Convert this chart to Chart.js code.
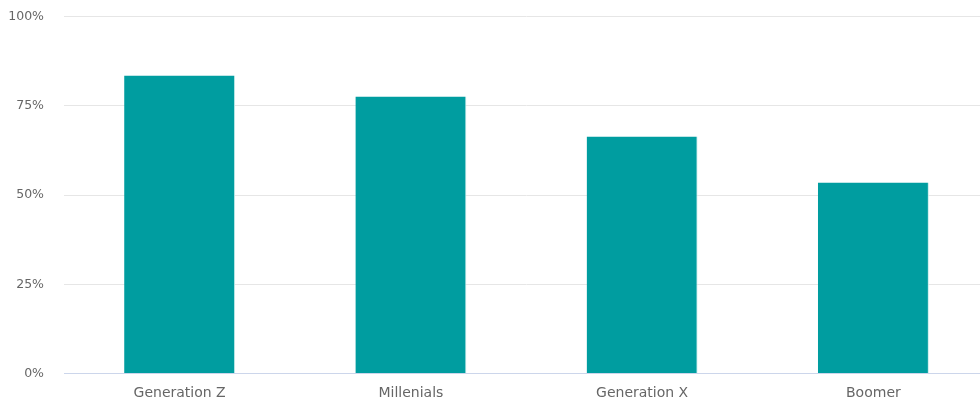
<!DOCTYPE html>
<html>
<head>
<meta charset="utf-8">
<script src="https://cdn.jsdelivr.net/npm/chart.js@4"></script>
<style>
  html, body { margin: 0; padding: 0; background: #fff; overflow: hidden; }
  #clip { width: 980px; height: 399px; overflow: hidden; }
  #wrap { width: 989px; height: 412px; margin-top: -11px; position: relative; }
</style>
</head>
<body>
<div id="clip"><div id="wrap"><canvas id="chart"></canvas></div></div>
<script>
var categories = ["Generation Z", "Millenials", "Generation X", "Boomer"];
var shareValues = [83.5, 77.6, 66.4, 53.5];
var yTicks = [0, 25, 50, 75, 100];

var ctx = document.getElementById("chart");
new Chart(ctx, {
    type: "bar",
    data: {
        labels: categories,
        datasets: [{
            data: shareValues,
            backgroundColor: "#009da0",
            borderColor: "#c8ecec",
            borderWidth: { right: 1, left: 0, top: 0, bottom: 0 },
            borderSkipped: false,
            barPercentage: 0.48,
            categoryPercentage: 1
        }]
    },
    options: {
        responsive: true,
        maintainAspectRatio: false,
        animation: false,
        layout: { padding: { top: 0, right: 0, left: 0, bottom: 0 } },
        plugins: { legend: { display: false }, tooltip: { enabled: false } },
        scales: {
            x: {
                grid: { display: false, drawTicks: false },
                border: { color: "#ccd6eb", width: 1 },
                ticks: { color: "#666", font: { family: "DejaVu Sans", size: 14 }, padding: 11 },
                afterFit: function(s) { s.height = 26; }
            },
            y: {
                min: 0,
                max: 100,
                afterBuildTicks: function(s) { s.ticks = yTicks.map(function(v){ return {value: v}; }); },
                grid: { color: "#e6e6e6", drawTicks: false },
                border: { display: false },
                ticks: {
                    color: "#666",
                    font: { family: "DejaVu Sans", size: 12.5 },
                    padding: 20,
                    callback: function(v) { return v + "%"; }
                },
                afterFit: function(s) { s.width = 64; }
            }
        }
    }
});
</script>
</body>
</html>
